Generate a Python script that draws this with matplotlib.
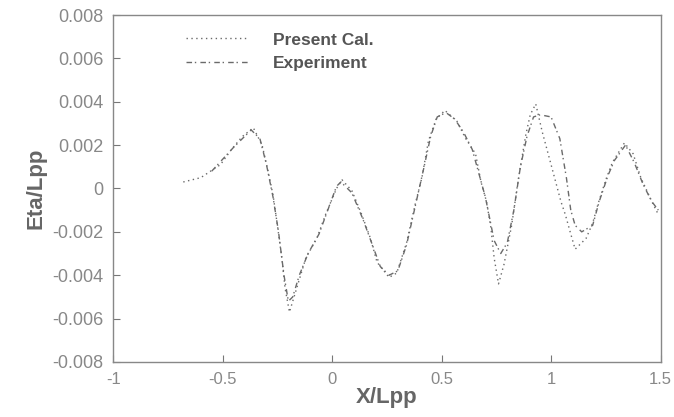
import matplotlib
matplotlib.use("Agg")
import matplotlib.pyplot as plt

plt.rcParams['font.family'] = ['Liberation Sans', 'DejaVu Sans']

# Present Cal. (x/Lpp, eta/Lpp)
cal_x = [-0.68, -0.60, -0.51, -0.46, -0.41, -0.36, -0.32, -0.295, -0.27, -0.25, -0.23,
         -0.215, -0.195, -0.165, -0.12, -0.07, -0.03, 0.02, 0.045, 0.09, 0.135, 0.175,
         0.205, 0.26, 0.295, 0.34, 0.38, 0.41, 0.44, 0.475, 0.515, 0.57, 0.61, 0.655,
         0.68, 0.705, 0.725, 0.74, 0.76, 0.785, 0.82, 0.85, 0.885, 0.905, 0.93, 0.96,
         1.00, 1.045, 1.065, 1.09, 1.11, 1.16, 1.19, 1.215, 1.25, 1.28, 1.335, 1.375,
         1.41, 1.465, 1.49]
cal_y = [0.0003, 0.0005, 0.0011, 0.0018, 0.0024, 0.0028, 0.0020, 0.0009, -0.0003, -0.0017,
         -0.0032, -0.0046, -0.0057, -0.0047, -0.0032, -0.0023, -0.0012, 0.0, 0.0004,
         -0.0001, -0.0012, -0.0023, -0.0034, -0.0041, -0.0039, -0.0025, -0.0007, 0.0005,
         0.0022, 0.0032, 0.0036, 0.0031, 0.0023, 0.0016, 0.0003, -0.0006, -0.0018,
         -0.0032, -0.0044, -0.0035, -0.0017, 0.0004, 0.0025, 0.0034, 0.0039, 0.0026,
         0.0011, -0.0006, -0.0012, -0.0021, -0.0028, -0.0023, -0.0016, -0.0007, 0.0004,
         0.0012, 0.0021, 0.0016, 0.0005, -0.0007, -0.0012]

# Experiment
exp_x = [-0.55, -0.45, -0.37, -0.33, -0.30, -0.27, -0.245, -0.22, -0.20, -0.18, -0.15,
         -0.11, -0.06, -0.02, 0.02, 0.04, 0.09, 0.14, 0.18, 0.22, 0.26, 0.30, 0.34, 0.38,
         0.42, 0.45, 0.48, 0.52, 0.56, 0.60, 0.64, 0.67, 0.70, 0.72, 0.74, 0.77, 0.80,
         0.83, 0.86, 0.89, 0.92, 0.95, 1.00, 1.04, 1.07, 1.09, 1.11, 1.14, 1.19, 1.22,
         1.26, 1.29, 1.34, 1.38, 1.42, 1.46, 1.49]
exp_y = [0.0008, 0.0019, 0.0027, 0.0023, 0.0011, -0.0004, -0.0020, -0.0040, -0.0052,
         -0.0050, -0.0040, -0.0030, -0.0021, -0.0010, 0.0001, 0.0003, -0.0002, -0.0014,
         -0.0025, -0.0036, -0.0040, -0.0038, -0.0026, -0.0008, 0.0010, 0.0024, 0.0033,
         0.0035, 0.0032, 0.0026, 0.0018, 0.0007, -0.0004, -0.0014, -0.0024, -0.0030,
         -0.0025, -0.0010, 0.0010, 0.0024, 0.0033, 0.0034, 0.0033, 0.0023, 0.0005,
         -0.0010, -0.0017, -0.0020, -0.0017, -0.0006, 0.0006, 0.0013, 0.0020, 0.0012,
         0.0002, -0.0006, -0.0010]

x_ticks = [-1, -0.5, 0, 0.5, 1, 1.5]
x_ticklabels = ['-1', '-0.5', '0', '0.5', '1', '1.5']
y_ticks = [-0.008, -0.006, -0.004, -0.002, 0, 0.002, 0.004, 0.006, 0.008]
y_ticklabels = ['-0.008', '-0.006', '-0.004', '-0.002', '0', '0.002', '0.004', '0.006', '0.008']

fig = plt.figure(figsize=(6.74, 4.17), dpi=100)
ax = fig.add_axes([0.168, 0.132, 0.812, 0.832])

ax.plot(cal_x, cal_y, color='#6a6a6a', lw=1.0, linestyle=(0, (1, 2.5)), label='Present Cal.')
ax.plot(exp_x, exp_y, color='#6a6a6a', lw=1.0, linestyle=(0, (4, 2, 1, 3)), label='Experiment')

ax.set_xlim(-1, 1.5)
ax.set_ylim(-0.008, 0.008)
ax.set_xticks(x_ticks)
ax.set_xticklabels(x_ticklabels)
ax.set_yticks(y_ticks)
ax.set_yticklabels(y_ticklabels)
ax.tick_params(direction='in', length=5, width=0.8, color='#777777',
               labelsize=13, labelcolor='#888888', pad=7)
ax.tick_params(axis='x', labelsize=12)
for s in ax.spines.values():
    s.set_color('#888888')
    s.set_linewidth(1.0)
    s.set_linestyle((0, (2, 1)))

ax.set_xlabel('X/Lpp', fontsize=16, fontweight='bold', color='#666666', labelpad=0)
ax.set_ylabel('Eta/Lpp', fontsize=16, fontweight='bold', color='#666666', labelpad=4)

leg = ax.legend(loc='upper left', bbox_to_anchor=(0.105, 0.995), frameon=False,
                fontsize=12.5, handlelength=3.6, labelspacing=0.5, handletextpad=1.4)
for t in leg.get_texts():
    t.set_color('#555555')
    t.set_fontweight('bold')

fig.savefig('out.png', dpi=100)
